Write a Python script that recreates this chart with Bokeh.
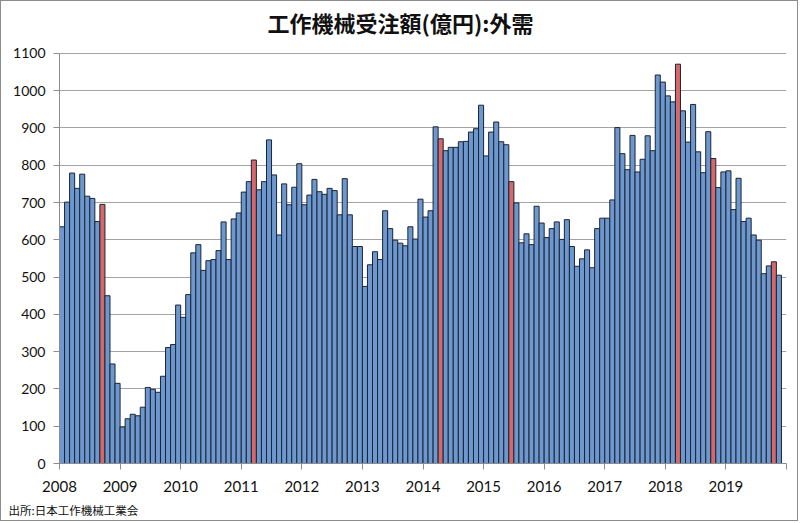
from bokeh.plotting import figure
from bokeh.models import ColumnDataSource, FixedTicker, Range1d, Title, Label
from bokeh.embed import file_html
from bokeh.resources import INLINE

# Monthly foreign orders of machine tools (100 million yen), Jan 2008 - Nov 2019
years = [2008, 2009, 2010, 2011, 2012, 2013, 2014, 2015, 2016, 2017, 2018, 2019]
v2008 = [635, 701, 779, 738, 776, 717, 711, 649, 695, 450, 267, 215]
v2009 = [98, 120, 132, 128, 151, 204, 199, 191, 234, 311, 319, 425]
v2010 = [392, 453, 565, 587, 518, 544, 547, 571, 648, 547, 656, 672]
v2011 = [728, 756, 814, 734, 756, 868, 774, 613, 750, 694, 741, 804]
v2012 = [694, 720, 762, 729, 722, 738, 732, 667, 764, 667, 582, 582]
v2013 = [475, 533, 568, 547, 678, 630, 599, 591, 584, 635, 602, 709]
v2014 = [661, 678, 903, 871, 839, 848, 848, 863, 864, 889, 898, 961]
v2015 = [825, 889, 916, 863, 855, 756, 699, 592, 616, 587, 690, 645]
v2016 = [606, 630, 648, 601, 654, 582, 529, 549, 573, 525, 630, 658]
v2017 = [658, 707, 901, 831, 788, 880, 782, 816, 879, 839, 1042, 1023]
v2018 = [986, 970, 1071, 946, 862, 963, 836, 780, 890, 818, 740, 782]
v2019 = [785, 681, 765, 649, 658, 613, 599, 509, 530, 541, 505]
highlighted = ["2008-09", "2011-03", "2014-04", "2015-06", "2018-03", "2018-10", "2019-10"]
y_ticks = [0, 100, 200, 300, 400, 500, 600, 700, 800, 900, 1000, 1100]
title_text = "工作機械受注額(億円):外需"
source_text = "出所:日本工作機械工業会"

series = [v2008, v2009, v2010, v2011, v2012, v2013, v2014, v2015, v2016, v2017, v2018, v2019]
months, xs, vals = [], [], []
i = 0
for yr, arr in zip(years, series):
    for m, v in enumerate(arr):
        months.append(f"{yr}-{m + 1:02d}")
        xs.append(i + 0.5)
        vals.append(v)
        i += 1

BLUE = "#6d98cf"
RED = "#d4686a"
colors = [RED if mo in highlighted else BLUE for mo in months]
src = ColumnDataSource(dict(x=xs, v=vals, c=colors, m=months))

# layout constants (pixels)
W, H = 798, 521
LEFT, RIGHT, BOTTOM = 58, 13, 58
PLOT_H = 411          # pixel height of the 0..1100 value band
TOP_PAD = 52          # space above the 1100 line, kept inside the frame for the title
y_max = y_ticks[-1]
y_end = y_max * (PLOT_H + TOP_PAD) / PLOT_H

n_total = len(years) * 12
p = figure(width=W, height=H, x_range=Range1d(0, n_total), y_range=Range1d(0, y_end),
           output_backend="svg", toolbar_location=None,
           min_border_left=LEFT, min_border_right=RIGHT, min_border_top=0, min_border_bottom=BOTTOM)
p.styles = {"border": "1px solid #8c8c8c"}
p.outline_line_color = None
p.background_fill_color = "white"
p.border_fill_color = "white"

p.vbar(x="x", top="v", width=1.0, source=src, fill_color="c",
       line_color="#1b2433", line_width=1)

# Title (screen units relative to the plot frame)
t = Label(x=341, y=PLOT_H + TOP_PAD - 21, x_units="screen", y_units="screen", text=title_text,
          text_align="center", text_baseline="middle", text_font="Noto Sans CJK JP",
          text_font_size="22px", text_font_style="bold", text_color="#111111")
p.add_layout(t)

# Source
s = Title(text=source_text, align="left", text_font="Noto Sans CJK JP",
          text_font_size="11.5px", text_font_style="normal", text_color="#111111", offset=-51)
p.add_layout(s, "below")

# y axis
p.yaxis.ticker = FixedTicker(ticks=y_ticks)
p.yaxis.bounds = (0, y_max)
p.yaxis.major_label_text_font = "Lato"
p.yaxis.major_label_text_font_size = "14px"
p.yaxis.major_label_text_color = "#111111"
p.yaxis.major_tick_in = 0
p.yaxis.major_tick_out = 6
p.yaxis.minor_tick_out = 0
p.yaxis.minor_tick_in = 0
p.yaxis.major_label_standoff = 8
p.yaxis.axis_line_color = "#8c8c8c"
p.yaxis.major_tick_line_color = "#8c8c8c"

# x axis
xt = [k * 12 for k in range(len(years) + 1)]
p.xaxis.ticker = FixedTicker(ticks=xt)
overrides = {k * 12: str(yr) for k, yr in enumerate(years)}
overrides[n_total] = ""
p.xaxis.major_label_overrides = overrides
p.xaxis.major_label_text_font = "Lato"
p.xaxis.major_label_text_font_size = "15px"
p.xaxis.major_label_text_color = "#111111"
p.xaxis.major_tick_in = 0
p.xaxis.major_tick_out = 6
p.xaxis.minor_tick_out = 0
p.xaxis.minor_tick_in = 0
p.xaxis.major_label_standoff = 11
p.xaxis.axis_line_color = "#8c8c8c"
p.xaxis.major_tick_line_color = "#8c8c8c"

p.xgrid.visible = False
p.ygrid.grid_line_color = "#a3a3a3"
p.ygrid.grid_line_width = 1

open("out.html", "w").write(file_html(p, INLINE))
